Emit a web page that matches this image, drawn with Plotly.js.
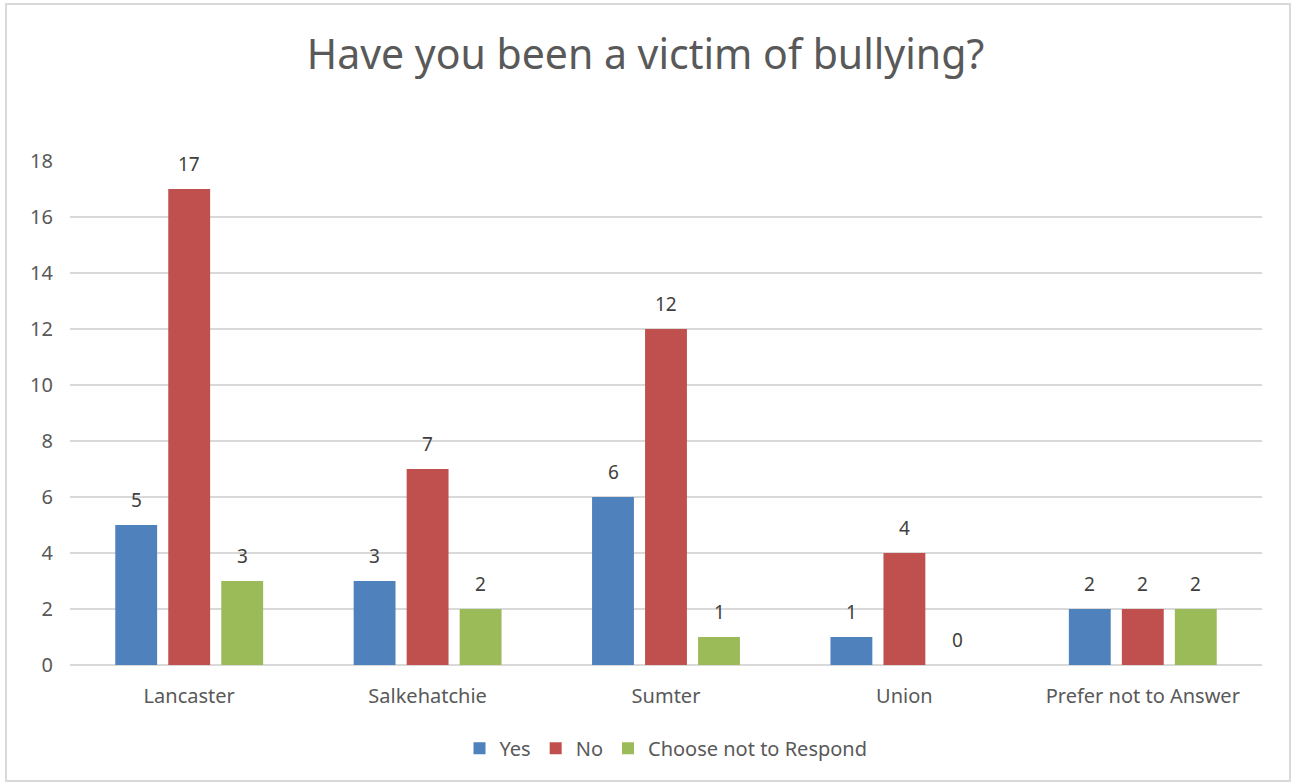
<!DOCTYPE html>
<html>
<head>
<meta charset="utf-8">
<script src="https://cdn.plot.ly/plotly-3.0.1.min.js"></script>
<style>
html,body{margin:0;padding:0;background:#fff;}
#wrap{position:relative;width:1291px;height:782px;}
#chart{width:1291px;height:782px;}
#frame{position:absolute;left:5px;top:3px;width:1282px;height:775px;border:2px solid #d9d9d9;pointer-events:none;}
</style>
</head>
<body>
<div id="wrap"><div id="chart"></div><div id="frame"></div></div>
<script>
const categories = ["Lancaster", "Salkehatchie", "Sumter", "Union", "Prefer not to Answer"];
const seriesNames = ["Yes", "No", "Choose not to Respond"];
const yesValues = [5, 3, 6, 1, 2];
const noValues = [17, 7, 12, 4, 2];
const notRespondValues = [3, 2, 1, 0, 2];
const colors = ["#4F81BD", "#C0504D", "#9BBB59"];

const allValues = [yesValues, noValues, notRespondValues];
const font = "Noto Sans, Open Sans, sans-serif";

const traces = allValues.map((vals, i) => ({
  type: "bar",
  name: seriesNames[i],
  x: categories,
  y: vals,
  marker: {color: colors[i], line: {width: 0}},
  hoverinfo: "x+y+name"
}));

// value labels placed above each bar via annotations on the data scales
const slotPx = 53;
const annotations = [];
allValues.forEach((vals, i) => {
  vals.forEach((v, j) => {
    annotations.push({
      x: categories[j], y: v, xref: "x", yref: "y",
      text: String(v), showarrow: false,
      xshift: (i - 1) * slotPx, yshift: 25,
      font: {family: font, size: 19, color: "#404040"}
    });
  });
});

const layout = {
  width: 1291, height: 782,
  margin: {l: 70, r: 29, t: 161, b: 117},
  paper_bgcolor: "#ffffff", plot_bgcolor: "#ffffff",
  font: {family: font, color: "#595959", size: 19},
  title: {text: "Have you been a victim of bullying?", x: 0.5, xanchor: "center", y: 0.93, yanchor: "middle",
          font: {family: font, size: 41, color: "#595959"}},
  barmode: "group",
  bargap: 0.333,
  bargroupgap: 0.21,
  xaxis: {type: "category", showgrid: false, zeroline: false, showline: false, ticks: "",
          tickfont: {family: font, size: 20, color: "#595959"}, ticklabelstandoff: 17},
  yaxis: {range: [0, 18], dtick: 2, showgrid: true, gridcolor: "#d9d9d9", gridwidth: 1.5,
          zeroline: true, zerolinecolor: "#d9d9d9", zerolinewidth: 1.5, showline: false, ticks: "",
          tickfont: {family: font, size: 20, color: "#595959"}, ticklabelstandoff: 16},
  legend: {orientation: "h", x: 0.5, xanchor: "center", y: -0.165, yanchor: "middle",
           font: {family: font, size: 20, color: "#595959"}, itemwidth: 20, traceorder: "normal"},
  annotations: annotations,
  showlegend: true
};

Plotly.newPlot("chart", traces, layout, {displayModeBar: false, staticPlot: true});
</script>
</body>
</html>
